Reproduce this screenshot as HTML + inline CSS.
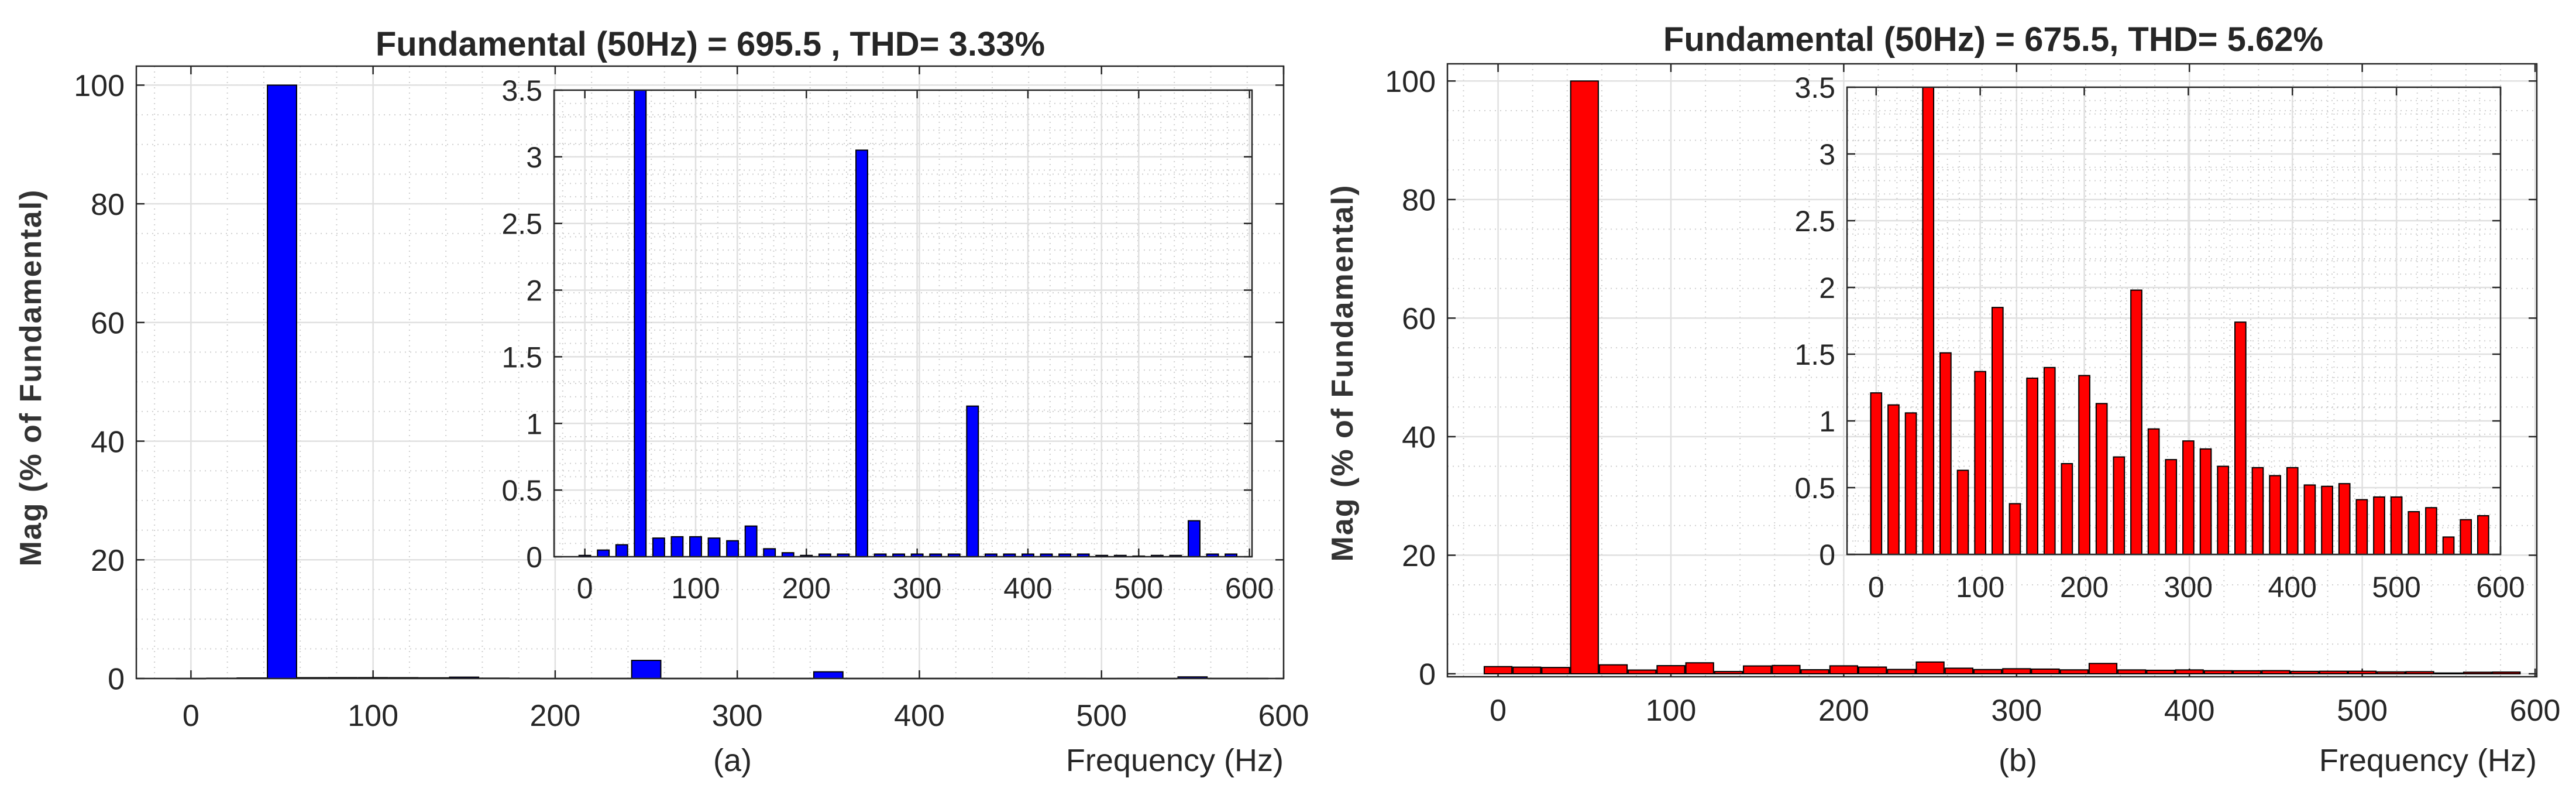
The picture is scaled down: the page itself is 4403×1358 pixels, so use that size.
<!DOCTYPE html>
<html><head><meta charset="utf-8">
<style>
html,body{margin:0;padding:0;background:#fff;}
svg{display:block;}
text{font-family:"Liberation Sans Narrow","Liberation Sans",sans-serif;fill:#262626;}
</style></head>
<body>
<svg id="fig" width="4403" height="1358" viewBox="0 0 4403 1358" xmlns="http://www.w3.org/2000/svg"></svg>
<script>
// ---- data ----
const harmonicStepHz = 50/3;
const seriesA = [0.01,0.05,0.09,100,0.14,0.15,0.15,0.14,0.12,0.23,0.06,0.03,0.01,0.02,0.02,3.05,0.02,0.02,0.02,0.02,0.02,1.13,0.02,0.02,0.02,0.02,0.02,0.02,0.01,0.01,0.005,0.01,0.01,0.27,0.02,0.02];
const seriesB = [1.21,1.12,1.06,100,1.51,0.63,1.37,1.85,0.38,1.32,1.40,0.68,1.34,1.13,0.73,1.98,0.94,0.71,0.85,0.79,0.66,1.74,0.65,0.59,0.65,0.52,0.51,0.53,0.41,0.43,0.43,0.32,0.35,0.13,0.26,0.29];
const xTicks = [0,100,200,300,400,500,600];
const mainYTicks = [0,20,40,60,80,100];
const insetYTicks = [0,0.5,1,1.5,2,2.5,3,3.5];
const insetYTickLabels = ["0","0.5","1","1.5","2","2.5","3","3.5"];
const titleA = "Fundamental (50Hz) = 695.5 , THD= 3.33%";
const titleB = "Fundamental (50Hz) = 675.5, THD= 5.62%";

const NS="http://www.w3.org/2000/svg";
const svg=document.getElementById('fig');
function mk(tag,attrs,parent){const e=document.createElementNS(NS,tag);for(const k in attrs)e.setAttribute(k,attrs[k]);(parent||svg).appendChild(e);return e;}

function axes(g,box,xlim,ylim,xTk,yTk,yLbl,minorX,minorY,fs,xLblY,yLblX,namePrefix){
  const sx=v=>box.l+(v-xlim[0])/(xlim[1]-xlim[0])*(box.r-box.l);
  const sy=v=>box.b-(v-ylim[0])/(ylim[1]-ylim[0])*(box.b-box.t);
  for(let v=Math.ceil(xlim[0]/minorX)*minorX; v<=xlim[1]; v+=minorX){
    const x=sx(v); const l=mk('line',{x1:x,x2:x,y1:box.t,y2:box.b,stroke:'#cfcfcf','stroke-width':2,'stroke-dasharray':'2 7'},g);
    
    
  }
  for(let v=Math.ceil(ylim[0]/minorY-1e-9)*minorY; v<=ylim[1]+1e-9; v+=minorY){
    const y=sy(v); const l=mk('line',{x1:box.l,x2:box.r,y1:y,y2:y,stroke:'#cfcfcf','stroke-width':2,'stroke-dasharray':'2 7'},g);
    
    
  }
  xTk.forEach(v=>{const x=sx(v);
    const l=mk('line',{x1:x,x2:x,y1:box.t,y2:box.b,stroke:'#e0e0e0','stroke-width':2.5},g);
    
    
    mk('line',{x1:x,x2:x,y1:box.b,y2:box.b-14,stroke:'#262626','stroke-width':2.5},g);
    mk('line',{x1:x,x2:x,y1:box.t,y2:box.t+14,stroke:'#262626','stroke-width':2.5},g);
    const t=mk('text',{x:x,y:xLblY,'font-size':fs,'text-anchor':'middle'},g);t.textContent=v;
    
    
  });
  yTk.forEach((v,i)=>{const y=sy(v);
    const l=mk('line',{x1:box.l,x2:box.r,y1:y,y2:y,stroke:'#e0e0e0','stroke-width':2.5},g);
    
    
    mk('line',{x1:box.l,x2:box.l+14,y1:y,y2:y,stroke:'#262626','stroke-width':2.5},g);
    mk('line',{x1:box.r,x2:box.r-14,y1:y,y2:y,stroke:'#262626','stroke-width':2.5},g);
    const t=mk('text',{x:yLblX,y:y+fs*0.36,'font-size':fs,'text-anchor':'end'},g);t.textContent=yLbl?yLbl[i]:v;
    
    
  });
  return {sx,sy};
}
function bars(g,s,box,vals,wHz,ylimTop,color,namePrefix){
  vals.forEach((v,k)=>{
    const f=k*harmonicStepHz;
    const x0=s.sx(f-wHz/2),x1=s.sx(f+wHz/2);
    const y0=s.sy(0),y1=Math.max(box.t,s.sy(Math.min(v,ylimTop)));
    const r=mk('rect',{x:x0,y:y1,width:x1-x0,height:Math.max(0.5,y0-y1),fill:color,stroke:'#000','stroke-width':2},g);
    
    
  });
}
function frame(g,box,name){
  const r=mk('rect',{x:box.l,y:box.t,width:box.r-box.l,height:box.b-box.t,fill:'none',stroke:'#262626','stroke-width':2.5},g);
  
  
}

function panel(cfg){
  const g=mk('g',{});
  
  
  const main=axes(g,cfg.box,cfg.xlim,cfg.ylim,xTicks,mainYTicks,null,20,5,52,cfg.xLblY,cfg.box.l-20,cfg.name+'-main');
  bars(g,main,cfg.box,cfg.vals,16,cfg.ylim[1],cfg.color,cfg.name+'-main');
  frame(g,cfg.box,cfg.name+'-main-axes-box');
  const ins=axes(g,cfg.ibox,cfg.ixlim,[0,3.5],xTicks,insetYTicks,insetYTickLabels,20,0.1,50,cfg.ixLblY,cfg.ibox.l-20,cfg.name+'-inset');
  bars(g,ins,cfg.ibox,cfg.vals,10.5,3.5,cfg.color,cfg.name+'-inset');
  frame(g,cfg.ibox,cfg.name+'-inset-axes-box');
  let t=mk('text',{x:cfg.titleX,y:cfg.titleY,'font-size':58,'font-weight':'bold','text-anchor':'middle',fill:'#000'},g);t.textContent=cfg.title;
  
  
  t=mk('text',{x:0,y:0,'font-size':52,'font-weight':'bold','letter-spacing':2,'text-anchor':'middle',transform:`translate(${cfg.ylabX},${cfg.ylabY}) rotate(-90)`,style:'font-family:"Liberation Sans",sans-serif;fill:#333'},g);t.textContent="Mag (% of Fundamental)";
  
  
  t=mk('text',{x:cfg.box.r,y:1317,'font-size':54,'text-anchor':'end'},g);t.textContent="Frequency (Hz)";
  
  
  t=mk('text',{x:cfg.capX,y:1317,'font-size':54,'text-anchor':'middle'},g);t.textContent=cfg.cap;
  
  
}

panel({name:'panel-a',vals:seriesA,color:'#0000ff',title:titleA,cap:'(a)',
  box:{l:233,r:2194,t:113,b:1159},xlim:[-30,600],ylim:[0,103.2],xLblY:1240,
  ibox:{l:947,r:2140,t:154,b:951},ixlim:[-27.8,602.3],ixLblY:1022,
  titleX:1214,titleY:95,ylabX:70,ylabY:645,capX:1252});
panel({name:'panel-b',vals:seriesB,color:'#ff0000',title:titleB,cap:'(b)',
  box:{l:2474,r:4336,t:109,b:1156},xlim:[-29.3,601],ylim:[-0.5,102.9],xLblY:1231,
  ibox:{l:3157,r:4274,t:149,b:947},ixlim:[-28,600],ixLblY:1020,
  titleX:3407,titleY:87,ylabX:2312,ylabY:637,capX:3449});
</script>
</body></html>
